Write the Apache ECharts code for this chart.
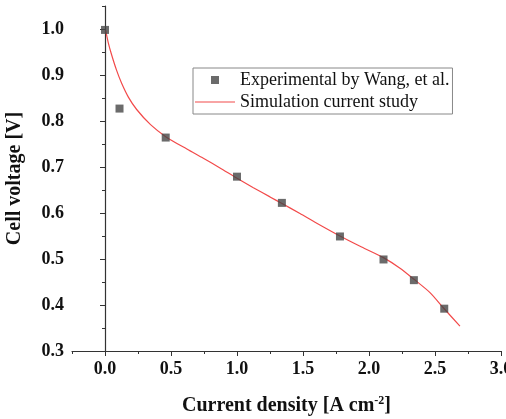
<!DOCTYPE html>
<html>
<head>
<meta charset="utf-8">
<script src="https://cdn.jsdelivr.net/npm/echarts@6/dist/echarts.min.js"></script>
<style>
  html, body { margin: 0; padding: 0; background: #fff; }
  #chart { width: 506px; height: 419px; }
</style>
</head>
<body>
<div id="chart"></div>
<script>
const SERIF = "'Liberation Serif', 'Times New Roman', serif"

// experimental points (current density, voltage)
const expX = [0.0, 0.11, 0.46, 1.0, 1.34, 1.78, 2.11, 2.34, 2.57]
const expY = [0.998, 0.827, 0.764, 0.679, 0.622, 0.549, 0.499, 0.454, 0.392]

// simulation curve
const simX = [0.005, 0.025, 0.05, 0.088, 0.126, 0.177, 0.24, 0.345, 0.46, 0.62, 0.745, 0.871, 0.997, 1.124, 1.25, 1.338, 1.477, 1.591, 1.78, 1.944, 2.109, 2.235, 2.336, 2.462, 2.563, 2.689]
const simY = [0.997, 0.970, 0.944, 0.910, 0.882, 0.852, 0.825, 0.792, 0.766, 0.739, 0.719, 0.698, 0.676, 0.655, 0.635, 0.621, 0.599, 0.580, 0.550, 0.526, 0.503, 0.480, 0.457, 0.427, 0.394, 0.354]

const xMajor = [0, 0.5, 1.0, 1.5, 2.0, 2.5, 3.0]
const yMajor = [0.3, 0.4, 0.5, 0.6, 0.7, 0.8, 0.9, 1.0]

const expName = 'Experimental by Wang, et al.'
const simName = 'Simulation current study'

const axisColor = '#333'
const labelStyle = { color: '#111', fontFamily: SERIF, fontWeight: 'bold', fontSize: 18 }
const nameStyle = { color: '#111', fontFamily: SERIF, fontWeight: 'bold', fontSize: 20 }

const chart = echarts.init(document.getElementById('chart'))

chart.setOption({
  animation: false,
  grid: { left: 72, right: 5, top: 6, bottom: 68, outerBoundsMode: 'none' },
  legend: {
    orient: 'vertical',
    left: 193,
    top: 68,
    padding: [3, 3, 3, 2],
    itemGap: 4,
    itemWidth: 40,
    itemHeight: 8,
    borderColor: '#888',
    borderWidth: 1,
    textStyle: { fontFamily: SERIF, fontSize: 18, color: '#111', lineHeight: 18 },
    data: [
      { name: expName, icon: 'path://M0,0L10,0L10,10L0,10Z' },
      { name: simName, icon: 'path://M0,0L40,0L40,1.2L0,1.2Z' }
    ]
  },
  xAxis: [
    {
      type: 'value',
      min: -0.25, max: 3.0, interval: 0.25,
      name: 'Current density [A cm{sup|-2}]',
      nameLocation: 'middle',
      nameGap: 44,
      nameTextStyle: Object.assign({
        rich: { sup: { fontFamily: SERIF, fontWeight: 'bold', fontSize: 12, color: '#111', verticalAlign: 'top', padding: [0, 0, 9, 0] } }
      }, nameStyle),
      axisLine: { lineStyle: { color: axisColor, width: 1.2 } },
      axisTick: { inside: false, length: 3, lineStyle: { color: axisColor } },
      axisLabel: { show: false },
      splitLine: { show: false }
    },
    {
      type: 'value',
      position: 'bottom',
      min: -0.25, max: 3.0, interval: 0.25,
      axisLine: { show: false },
      axisTick: { length: 5, customValues: xMajor, lineStyle: { color: axisColor } },
      axisLabel: Object.assign({ customValues: xMajor, margin: 9, formatter: v => v.toFixed(1) }, labelStyle),
      splitLine: { show: false }
    }
  ],
  yAxis: [
    {
      type: 'value',
      min: 0.3, max: 1.05, interval: 0.05,
      name: 'Cell voltage [V]',
      nameLocation: 'middle',
      nameGap: 47,
      nameTextStyle: nameStyle,
      axisLine: { show: true, lineStyle: { color: axisColor, width: 1.2 } },
      axisTick: { show: true, length: 3, lineStyle: { color: axisColor } },
      axisLabel: { show: false },
      splitLine: { show: false }
    },
    {
      type: 'value',
      position: 'left',
      min: 0.3, max: 1.05, interval: 0.05,
      axisLine: { show: false },
      axisTick: { show: true, length: 5, customValues: yMajor, lineStyle: { color: axisColor } },
      axisLabel: Object.assign({ customValues: yMajor, margin: 8, formatter: v => v.toFixed(1) }, labelStyle),
      splitLine: { show: false }
    }
  ],
  series: [
    {
      name: simName,
      type: 'line',
      data: simX.map((x, i) => [x, simY[i]]),
      smooth: 0.25,
      showSymbol: false,
      symbol: 'none',
      lineStyle: { color: '#f24a4a', width: 1.2 },
      itemStyle: { color: '#f24a4a' },
      z: 2
    },
    {
      name: expName,
      type: 'scatter',
      data: expX.map((x, i) => [x, expY[i]]),
      symbol: 'rect',
      symbolSize: 8,
      itemStyle: { color: '#464646' },
      z: 3
    }
  ]
})
</script>
</body>
</html>
